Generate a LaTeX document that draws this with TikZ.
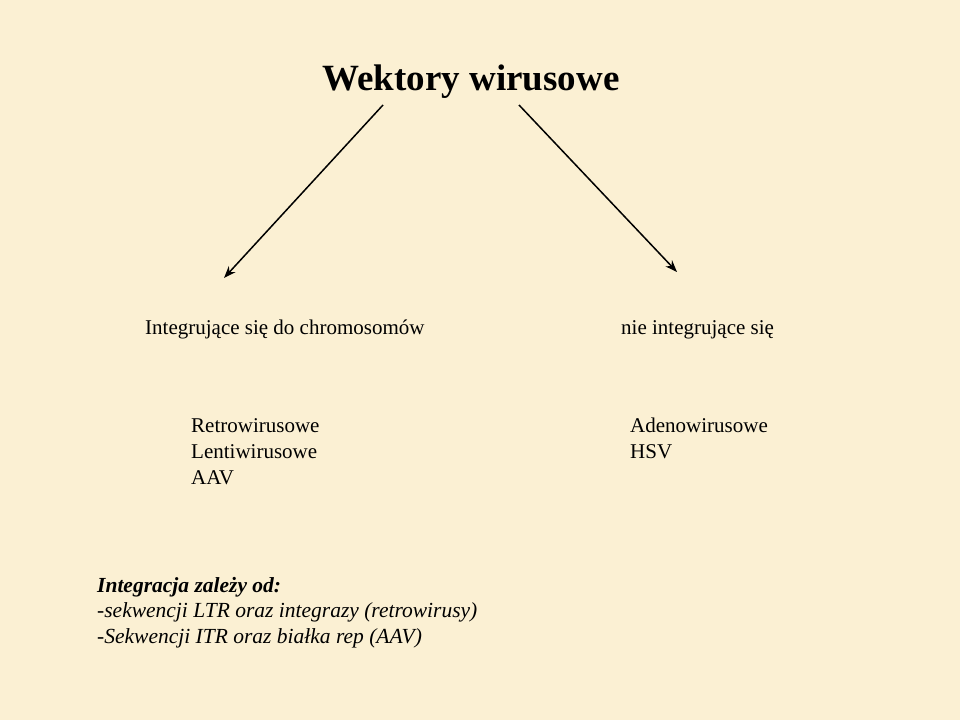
\documentclass[tikz,border=0pt]{standalone}
\usepackage{fontspec}
\setmainfont{Liberation Serif}
\usetikzlibrary{arrows.meta}
\definecolor{parch}{HTML}{FBF0D3}
\tikzset{
  lbl/.style={anchor=base west, inner sep=0pt, font=\fontsize{21}{25}\selectfont},
  note/.style={anchor=base west, inner sep=0pt, font=\fontsize{21.5}{25.5}\selectfont\itshape},
  arr/.style={line width=1.5pt, -{Stealth[length=12pt,width=9pt]}}
}
\begin{document}
\begin{tikzpicture}[x=1pt,y=-1pt]
\fill[parch] (0,0) rectangle (960,720);
\useasboundingbox (0,0) rectangle (960,720);
\node[anchor=base, inner sep=0pt, font=\fontsize{37}{40}\selectfont\bfseries] (title) at (471,90) {Wektory wirusowe};
\coordinate (a1s) at (383,105);
\coordinate (a1e) at (224,278);
\coordinate (a2s) at (519,105);
\coordinate (a2e) at (677,272);
\draw[arr] (a1s) -- (a1e);
\draw[arr] (a2s) -- (a2e);
\node[lbl] (int) at (145,334) {Integrujące się do chromosomów};
\node[lbl] (nie) at (621,334) {nie integrujące się};
\node[lbl] (retro) at (191,432) {Retrowirusowe};
\node[lbl] (lenti) at (191,458) {Lentiwirusowe};
\node[lbl] (aav) at (191,484) {AAV};
\node[lbl] (adeno) at (630,432) {Adenowirusowe};
\node[lbl] (hsv) at (630,458) {HSV};
\node[note, font=\fontsize{21.5}{25.5}\selectfont\bfseries\itshape] (n1) at (97,592) {Integracja zależy od:};
\node[note] (n2) at (97,617) {-sekwencji LTR oraz integrazy (retrowirusy)};
\node[note] (n3) at (97,643) {-Sekwencji ITR oraz białka rep (AAV)};
\end{tikzpicture}
\end{document}
